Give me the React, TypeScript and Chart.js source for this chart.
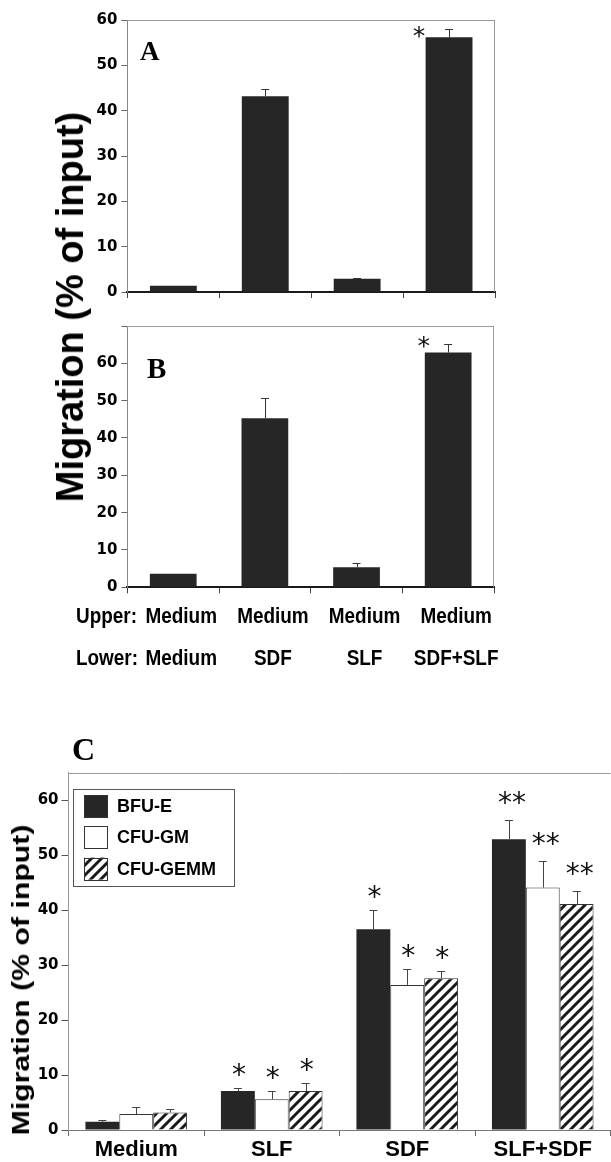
import React, { useEffect, useRef } from 'react';
import { Chart, registerables } from 'chart.js';

Chart.register(...registerables);

// ---------- Panels A & B (shared categories) ----------
const abLower = ['Medium', 'SDF', 'SLF', 'SDF+SLF'];
const abUpper = ['Medium', 'Medium', 'Medium', 'Medium'];
const aValues = [1.4, 43.2, 2.9, 56.2];
const aErrHigh = [1.4, 44.8, 3.1, 58.0];
const aStars = ['', '', '', '*'];
const bValues = [3.6, 45.3, 5.4, 62.9];
const bErrHigh = [3.6, 50.6, 6.4, 65.3];
const bStars = ['', '', '', '*'];

// ---------- Panel C ----------
const cCategories = ['Medium', 'SLF', 'SDF', 'SLF+SDF'];
const cSeriesNames = ['BFU-E', 'CFU-GM', 'CFU-GEMM'];
const bfuE = [1.5, 7.1, 36.5, 52.9];
const bfuEErr = [1.8, 7.7, 40.0, 56.4];
const bfuEStars = ['', '*', '*', '**'];
const cfuGM = [2.9, 5.6, 26.4, 44.1];
const cfuGMErr = [4.1, 7.1, 29.2, 49.0];
const cfuGMStars = ['', '*', '*', '**'];
const cfuGEMM = [3.2, 7.1, 27.6, 41.1];
const cfuGEMMErr = [3.8, 8.6, 29.0, 43.4];
const cfuGEMMStars = ['', '*', '*', '**'];

const yTitle = 'Migration (% of input)';

const DARK = '#262626';
const SANS = '"Liberation Sans", Arial, Helvetica, sans-serif';
const SERIF = '"Liberation Serif", "Times New Roman", serif';
const TICKFONT = { family: '"DejaVu Sans", sans-serif', size: 15, weight: 'bold' as const };

function drawErrorBars(chart: any, color: string, capHalf: number) {
  const ctx = chart.ctx;
  const ys = chart.scales.y;
  chart.data.datasets.forEach((ds: any, i: number) => {
    if (!ds.errHigh) return;
    const meta = chart.getDatasetMeta(i);
    meta.data.forEach((bar: any, j: number) => {
      const hi = ds.errHigh[j];
      if (hi == null || hi <= ds.data[j]) return;
      const yTop = ys.getPixelForValue(hi);
      ctx.save();
      ctx.strokeStyle = color;
      ctx.lineWidth = 1;
      ctx.beginPath();
      ctx.moveTo(Math.round(bar.x) + 0.5, bar.y);
      ctx.lineTo(Math.round(bar.x) + 0.5, Math.round(yTop) + 0.5);
      ctx.moveTo(bar.x - capHalf, Math.round(yTop) + 0.5);
      ctx.lineTo(bar.x + capHalf, Math.round(yTop) + 0.5);
      ctx.stroke();
      ctx.restore();
    });
  });
}

function drawStars(chart: any, o: any) {
  const ctx = chart.ctx;
  const ys = chart.scales.y;
  chart.data.datasets.forEach((ds: any, i: number) => {
    if (!ds.stars) return;
    const meta = chart.getDatasetMeta(i);
    meta.data.forEach((bar: any, j: number) => {
      const s = ds.stars[j];
      if (!s) return;
      const top = ys.getPixelForValue(ds.errHigh[j]);
      ctx.save();
      ctx.font = o.font;
      ctx.fillStyle = '#111';
      ctx.textAlign = 'center';
      ctx.textBaseline = 'alphabetic';
      const m = ctx.measureText(s);
      const inkMid = (m.actualBoundingBoxAscent - m.actualBoundingBoxDescent) / 2;
      let cx: number;
      let cy: number;
      if (o.side === 'left') {
        cx = bar.x - bar.width / 2 + o.dx;
        cy = top + o.dy;
      } else {
        cx = bar.x + (s.length > 1 ? o.dx2 : o.dx1);
        cy = top - (s.length > 1 ? o.gap2 : o.gap1);
      }
      ctx.fillText(s, cx, cy + inkMid);
      ctx.restore();
    });
  });
}

function drawFrame(chart: any, color: string, right: boolean) {
  const ctx = chart.ctx;
  const ca = chart.chartArea;
  ctx.save();
  ctx.strokeStyle = color;
  ctx.lineWidth = 1;
  ctx.beginPath();
  ctx.moveTo(ca.left, Math.round(ca.top) + 0.5);
  ctx.lineTo(ca.right, Math.round(ca.top) + 0.5);
  if (right) {
    ctx.moveTo(Math.round(ca.right) - 0.5, ca.top);
    ctx.lineTo(Math.round(ca.right) - 0.5, ca.bottom);
  }
  ctx.stroke();
  ctx.restore();
}

function drawCondensed(ctx: any, text: string, x: number, y: number, align: string, sx: number) {
  ctx.save();
  ctx.translate(x, y);
  ctx.scale(sx, 1);
  ctx.textAlign = align;
  ctx.textBaseline = 'alphabetic';
  ctx.fillText(text, 0, 0);
  ctx.restore();
}

function abConfig(values: number[], errHigh: number[], stars: string[], yMax: number, padTop: number, padRight: number, xHeight: number, letter: string, isB: boolean): any {
  return {
    type: 'bar',
    data: {
      labels: abLower,
      datasets: [
        {
          data: values,
          backgroundColor: DARK,
          borderWidth: 0,
          barPercentage: 0.51,
          categoryPercentage: 1,
          errHigh,
          stars,
        },
      ],
    },
    options: {
      animation: false,
      responsive: false,
      maintainAspectRatio: false,
      layout: { padding: { left: 0, right: padRight, top: padTop, bottom: 0 } },
      plugins: { legend: { display: false }, tooltip: { enabled: false } },
      scales: {
        x: {
          grid: { display: true, drawOnChartArea: false, drawTicks: true, tickLength: 6, color: '#444', offset: true },
          border: { display: true, color: '#1a1a1a', width: 2 },
          ticks: { display: false },
          afterFit: (s: any) => { s.height = xHeight; },
        },
        y: {
          min: 0,
          max: yMax,
          ticks: {
            stepSize: 10,
            color: '#000',
            padding: 4,
            font: TICKFONT,
            callback: (v: any) => (v > 60 ? '' : v),
          },
          grid: { drawOnChartArea: false, tickLength: 6, color: '#666' },
          border: { display: true, color: '#888', width: 1 },
          afterFit: (s: any) => { s.width = 127.4; },
        },
      },
    },
    plugins: [
      {
        id: 'decor' + letter,
        beforeDatasetsDraw(chart: any) {
          drawFrame(chart, '#9a9a9a', true);
        },
        afterDatasetsDraw(chart: any) {
          drawErrorBars(chart, '#333', 4);
          drawStars(chart, isB
            ? { side: 'left', dx: -1, dy: -2, font: '25px "DejaVu Sans", sans-serif' }
            : { side: 'left', dx: -6.5, dy: 3, font: '25px "DejaVu Sans", sans-serif' });
          const ctx = chart.ctx;
          const ca = chart.chartArea;
          ctx.save();
          ctx.fillStyle = '#000';
          ctx.font = isB ? `bold 29px ${SERIF}` : `bold 27px ${SERIF}`;
          ctx.textAlign = 'left';
          ctx.textBaseline = 'alphabetic';
          if (isB) ctx.fillText(letter, ca.left + 19.6, ca.top + 52);
          else ctx.fillText(letter, ca.left + 12.6, ca.top + 40);
          ctx.restore();
          if (isB) {
            const xs = chart.scales.x;
            ctx.save();
            ctx.fillStyle = '#000';
            ctx.font = `bold 22px ${SANS}`;
            const upperY = ca.bottom + 35.4;
            const lowerY = ca.bottom + 77.7;
            const sx = 0.86;
            drawCondensed(ctx, 'Upper:', ca.left - 51.4, upperY, 'left', sx);
            drawCondensed(ctx, 'Lower:', ca.left - 51.4, lowerY, 'left', sx);
            for (let i = 0; i < abLower.length; i++) {
              const px = xs.getPixelForValue(i) + 8;
              drawCondensed(ctx, abUpper[i], px, upperY, 'center', sx);
              drawCondensed(ctx, abLower[i], px, lowerY, 'center', sx);
            }
            ctx.restore();
          }
        },
      },
    ],
  };
}

function makeHatch(ctx: CanvasRenderingContext2D) {
  const s = 10;
  const c = document.createElement('canvas');
  c.width = s;
  c.height = s;
  const g = c.getContext('2d') as CanvasRenderingContext2D;
  g.fillStyle = '#ffffff';
  g.fillRect(0, 0, s, s);
  g.strokeStyle = '#1a1a1a';
  g.lineWidth = 3;
  g.beginPath();
  g.moveTo(-1, s + 1);
  g.lineTo(s + 1, -1);
  g.moveTo(-s / 2 - 1, s / 2 + 1);
  g.lineTo(s / 2 + 1, -s / 2 - 1);
  g.moveTo(s / 2 - 1, s * 1.5 + 1);
  g.lineTo(s * 1.5 + 1, s / 2 - 1);
  g.stroke();
  return ctx.createPattern(c, 'repeat');
}

function cConfig(hatch: any): any {
  return {
    type: 'bar',
    data: {
      labels: cCategories,
      datasets: [
        { label: cSeriesNames[0], data: bfuE, backgroundColor: DARK, borderWidth: 0, errHigh: bfuEErr, stars: bfuEStars },
        { label: cSeriesNames[1], data: cfuGM, backgroundColor: '#ffffff', borderColor: '#333', borderWidth: 1, errHigh: cfuGMErr, stars: cfuGMStars },
        { label: cSeriesNames[2], data: cfuGEMM, backgroundColor: hatch, borderColor: '#333', borderWidth: 1, errHigh: cfuGEMMErr, stars: cfuGEMMStars },
      ],
    },
    options: {
      animation: false,
      responsive: false,
      maintainAspectRatio: false,
      datasets: { bar: { barPercentage: 1, categoryPercentage: 0.75 } },
      layout: { padding: { left: 0, right: 0.5, top: 52.7, bottom: 0 } },
      plugins: { legend: { display: false }, tooltip: { enabled: false } },
      scales: {
        x: {
          grid: { display: true, drawOnChartArea: false, drawTicks: true, tickLength: 6, color: '#666', offset: true },
          border: { display: true, color: '#777', width: 1 },
          ticks: { color: '#000', padding: 1, font: { family: SANS, size: 22, weight: 'bold' } },
          afterFit: (s: any) => { s.height = 32; },
        },
        y: {
          min: 0,
          max: 65,
          ticks: { stepSize: 10, includeBounds: false, color: '#000', padding: 3, font: TICKFONT },
          grid: { drawOnChartArea: false, tickLength: 7, color: '#555' },
          border: { display: true, color: '#999', width: 1 },
          afterFit: (s: any) => { s.width = 68.5; },
        },
      },
    },
    plugins: [
      {
        id: 'decorC',
        beforeDatasetsDraw(chart: any) {
          drawFrame(chart, '#9a9a9a', false);
        },
        afterDatasetsDraw(chart: any) {
          drawErrorBars(chart, '#444', 4);
          drawStars(chart, { side: 'top', dx1: 1, dx2: 3, gap1: 18, gap2: 22, font: '28px "DejaVu Sans", sans-serif' });
          const ctx = chart.ctx;
          const ca = chart.chartArea;
          // panel letter
          ctx.save();
          ctx.fillStyle = '#000';
          ctx.font = `bold 32px ${SERIF}`;
          ctx.textAlign = 'left';
          ctx.textBaseline = 'alphabetic';
          ctx.fillText('C', ca.left + 3.5, ca.top - 12.7);
          ctx.restore();
          // legend
          const bx = ca.left + 4.2;
          const by = ca.top + 16.6;
          ctx.save();
          ctx.fillStyle = '#fff';
          ctx.fillRect(bx, by, 161, 97.4);
          ctx.strokeStyle = '#555';
          ctx.lineWidth = 1;
          ctx.strokeRect(Math.round(bx) + 0.5, Math.round(by) + 0.5, 161, 97);
          chart.data.datasets.forEach((ds: any, i: number) => {
            const cy = by + 16.7 + i * 31.3;
            ctx.fillStyle = ds.backgroundColor;
            ctx.fillRect(bx + 11.4, cy - 11, 23, 22);
            ctx.strokeStyle = '#333';
            ctx.strokeRect(Math.round(bx + 11.4) + 0.5, Math.round(cy - 11) + 0.5, 23, 22);
            ctx.fillStyle = '#000';
            ctx.font = `bold 18px ${SANS}`;
            ctx.textAlign = 'left';
            ctx.textBaseline = 'middle';
            ctx.fillText(ds.label, bx + 44.3, cy + 1);
          });
          ctx.restore();
        },
      },
    ],
  };
}

export default function App() {
  const refA = useRef<HTMLCanvasElement>(null);
  const refB = useRef<HTMLCanvasElement>(null);
  const refC = useRef<HTMLCanvasElement>(null);

  useEffect(() => {
    const charts: Chart[] = [];
    if (refA.current) {
      charts.push(new Chart(refA.current, abConfig(aValues, aErrHigh, aStars, 60, 20, 116, 6.5, 'A', false)));
    }
    if (refB.current) {
      charts.push(new Chart(refB.current, abConfig(bValues, bErrHigh, bStars, 70, 21, 117, 92.7, 'B', true)));
    }
    if (refC.current) {
      const ctx = refC.current.getContext('2d') as CanvasRenderingContext2D;
      charts.push(new Chart(refC.current, cConfig(makeHatch(ctx))));
    }
    return () => charts.forEach((c) => c.destroy());
  }, []);

  const wrap: React.CSSProperties = {
    position: 'fixed',
    left: 0,
    top: 0,
    width: 611,
    height: 1162,
    overflow: 'hidden',
    background: '#fff',
  };
  const abs = (top: number): React.CSSProperties => ({ position: 'absolute', left: 0, top });

  return (
    <div style={wrap}>
      <canvas ref={refA} width={611} height={305} style={abs(0)} />
      <canvas ref={refB} width={611} height={375} style={abs(305)} />
      <canvas ref={refC} width={611} height={442} style={abs(720)} />
      <div
        style={{
          position: 'absolute',
          left: 70,
          top: 306.5,
          transform: 'translate(-50%, -50%) rotate(-90deg)',
          font: `bold 38px ${SANS}`,
          lineHeight: '38px',
          whiteSpace: 'nowrap',
          color: '#000',
        }}
      >
        {yTitle}
      </div>
      <div
        style={{
          position: 'absolute',
          left: 20.9,
          top: 980,
          transform: 'translate(-50%, -50%) rotate(-90deg) scaleX(1.26)',
          font: `bold 24px ${SANS}`,
          lineHeight: '24px',
          whiteSpace: 'nowrap',
          color: '#000',
        }}
      >
        {yTitle}
      </div>
    </div>
  );
}
